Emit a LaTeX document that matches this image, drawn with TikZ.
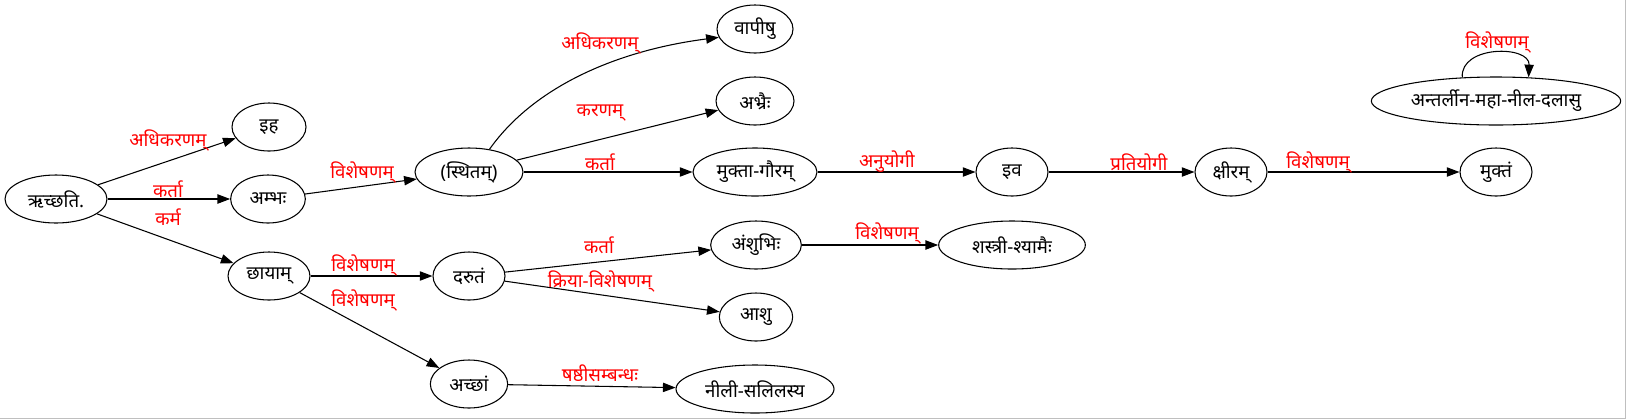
\documentclass[tikz,border=0pt]{standalone}
\usepackage{fontspec}
\setmainfont[Script=Devanagari]{Noto Sans}
\usetikzlibrary{shapes.geometric,arrows.meta}

\begin{document}
\begin{tikzpicture}[x=0.75pt,y=-0.75pt,
  tok/.style={draw,ellipse,line width=0.8pt,minimum height=36pt,inner sep=0pt,font=\fontsize{14}{16}\selectfont},
  rel/.style={line width=0.8pt,-{Triangle[length=9.5pt,width=7pt]}},
  lbl/.style={text=red,inner sep=0pt,font=\fontsize{14}{16}\selectfont}]
\useasboundingbox (0,0) rectangle (1626,419);
\draw[gray!50] (0,418) -- (1625,418) -- (1625,0);

% the words
\node[tok,minimum width=76.5pt] (rcchati) at (56,199) {ऋच्छति.};
\node[tok,minimum width=55.5pt] (iha) at (269,127) {इह};
\node[tok,minimum width=56pt] (ambhah) at (268,199) {अम्भः};
\node[tok,minimum width=61.5pt] (chayam) at (269,276) {छायाम्};
\node[tok,minimum width=81pt] (sthitam) at (469,172) {(स्थितम्)};
\node[tok,minimum width=57pt] (vapishu) at (755,29) {वापीषु};
\node[tok,minimum width=58.5pt] (abhraih) at (755,101) {अभ्रैः};
\node[tok,minimum width=93pt] (muktagauram) at (755,172) {मुक्ता-गौरम्};
\node[tok,minimum width=54pt] (iva) at (1012,172) {इव};
\node[tok,minimum width=54pt] (kshiram) at (1231,172) {क्षीरम्};
\node[tok,minimum width=54pt] (muktam) at (1496,172) {मुक्तं};
\node[tok,minimum width=187pt] (antarlina) at (1496,101) {अन्तर्लीन-महा-नील-दलासु};
\node[tok,minimum width=54pt] (drutam) at (469,276) {दरुतं};
\node[tok,minimum width=58pt] (accham) at (469,384) {अच्छां};
\node[tok,minimum width=68pt] (amshubhih) at (756,245) {अंशुभिः};
\node[tok,minimum width=110pt] (shastri) at (1012,245) {शस्त्री-श्यामैः};
\node[tok,minimum width=55pt] (ashu) at (756,317) {आशु};
\node[tok,minimum width=118.5pt] (nili) at (755,389) {नीली-सलिलस्य};

% the relations
\draw[rel] (rcchati) -- (iha) node[lbl] at (168,140) {अधिकरणम्};
\draw[rel] (rcchati) -- (ambhah) node[lbl] at (168,189) {कर्ता};
\draw[rel] (rcchati) -- (chayam) node[lbl] at (168,217) {कर्म};
\draw[rel] (ambhah) -- (sthitam) node[lbl] at (362,172) {विशेषणम्};
\draw[rel] (sthitam.48) .. controls (535,85) and (620,50) .. (vapishu.193) node[lbl] at (600,43) {अधिकरणम्};
\draw[rel] (sthitam) -- (abhraih) node[lbl] at (600,113) {करणम्};
\draw[rel] (sthitam) -- (muktagauram) node[lbl] at (600,162) {कर्ता};
\draw[rel] (muktagauram) -- (iva) node[lbl] at (887,162) {अनुयोगी};
\draw[rel] (iva) -- (kshiram) node[lbl] at (1139,162) {प्रतियोगी};
\draw[rel] (kshiram) -- (muktam) node[lbl] at (1318,162) {विशेषणम्};
\draw[rel] (antarlina.145) .. controls (1460,45) and (1530,45) .. (antarlina.36) node[lbl] at (1497,42) {विशेषणम्};
\draw[rel] (chayam) -- (drutam) node[lbl] at (363,265) {विशेषणम्};
\draw[rel] (chayam) -- (accham) node[lbl] at (363,300) {विशेषणम्};
\draw[rel] (drutam) -- (amshubhih) node[lbl] at (599,245) {कर्ता};
\draw[rel] (drutam) -- (ashu) node[lbl] at (600,281) {क्रिया-विशेषणम्};
\draw[rel] (accham) -- (nili) node[lbl] at (600,373) {षष्ठीसम्बन्धः};
\draw[rel] (amshubhih) -- (shastri) node[lbl] at (887,233) {विशेषणम्};
\end{tikzpicture}
\end{document}
